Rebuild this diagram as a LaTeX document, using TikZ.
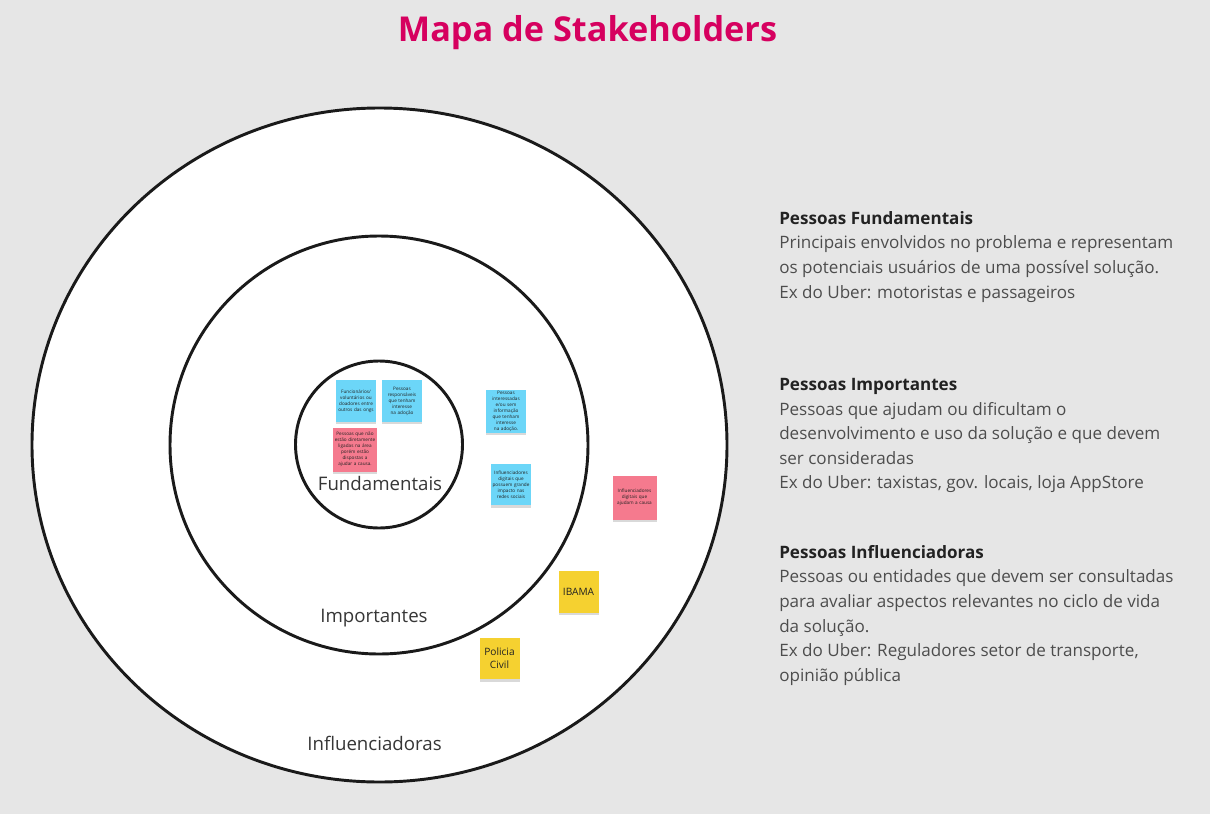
\documentclass[tikz,border=0pt]{standalone}
\usepackage{fontspec}
\setmainfont{Open Sans}
\usetikzlibrary{shadows}
\definecolor{bgcol}{HTML}{E6E6E6}
\definecolor{titlecol}{HTML}{D6005F}
\definecolor{ringcol}{HTML}{1A1A1A}
\definecolor{headcol}{HTML}{222222}
\definecolor{bodycol}{HTML}{4D4D4D}
\definecolor{labelcol}{HTML}{363636}
\definecolor{noteblue}{HTML}{6CD6F8}
\definecolor{notepink}{HTML}{F57A8E}
\definecolor{noteyellow}{HTML}{F5D130}
\newcommand{\notefont}{\fontsize{3.5}{4.5}\selectfont\hyphenpenalty=10000\relax}

\begin{document}
\begin{tikzpicture}
	[x=0.75pt,y=-0.75pt,
	ring/.style={draw=ringcol,line width=2.2pt,fill=white},
	sticky/.style={rectangle,inner sep=1pt,minimum width=30pt,minimum height=31pt,
		align=center,text width=28pt,text=headcol,font=\notefont,
		drop shadow={shadow xshift=0pt,shadow yshift=-1.8pt,opacity=0.15,fill=black}},
	bluenote/.style={sticky,fill=noteblue},
	pinknote/.style={sticky,fill=notepink,minimum width=33pt,minimum height=33pt,text width=31pt},
	yellownote/.style={sticky,fill=noteyellow,font=\fontsize{7.6}{9.6}\selectfont},
	ringlabel/.style={anchor=base,inner sep=0pt,text=labelcol,font=\fontsize{14}{16}\selectfont},
	legend/.style={anchor=north west,inner sep=0pt,align=left,text=bodycol,
		font=\fontsize{12.8}{18.45}\selectfont}]
	\fill [bgcol] (0,0) rectangle (1210,814);
	\node (title) [anchor=base,inner sep=0pt,text=titlecol,font=\fontsize{25.7}{30}\bfseries]
		at (587.5,41) {Mapa de Stakeholders};
	% rings
	\draw [ring] (379.5,445) ellipse [x radius=347.5,y radius=337];
	\draw [ring] (379,445) circle [radius=209];
	\draw [ring] (379,444.5) circle [radius=83.5];
	\node (fund) [ringlabel] at (380,490) {Fundamentais};
	\node (imp) [ringlabel] at (374,622) {Importantes};
	\node (infl) [ringlabel] at (374.5,750) {Influenciadoras};
	% sticky notes
	\node (func) [bluenote] at (356,401) {Funcionários/ voluntários ou doadores entre outros das ongs};
	\node (resp) [bluenote] at (402,401) {Pessoas responsáveis que tenham interesse na adoção};
	\node (apoio) [pinknote] at (355,449.5) {Pessoas que não estão diretamente ligadas na área porém estão dispostas a ajudar a causa.};
	\node (inter) [bluenote] at (506,411.5) {Pessoas interessadas e/ou sem informação que tenham interesse na adoção.};
	\node (digi) [bluenote] at (511,484.5) {Influenciadores digitais que possuem grande impacto nas redes sociais};
	\node (causa) [pinknote] at (634.5,497.5) {Influenciadores digitais que ajudam a causa};
	\node (ibama) [yellownote] at (578.5,592) {IBAMA};
	\node (policia) [yellownote] at (499.5,658.5) {Policia Civil};
	% legend
	\node (lfund) [legend] at (779,211) {\textcolor{headcol}{\textbf{Pessoas Fundamentais}}\\
		Principais envolvidos no problema e representam\\
		os potenciais usuários de uma possível solução.\\
		Ex do Uber: motoristas e passageiros};
	\node (limp) [legend] at (779,378) {\textcolor{headcol}{\textbf{Pessoas Importantes}}\\
		Pessoas que ajudam ou dificultam o\\
		desenvolvimento e uso da solução e que devem\\
		ser consideradas\\
		Ex do Uber: taxistas, gov. locais, loja AppStore};
	\node (linfl) [legend] at (779,545) {\textcolor{headcol}{\textbf{Pessoas Influenciadoras}}\\
		Pessoas ou entidades que devem ser consultadas\\
		para avaliar aspectos relevantes no ciclo de vida\\
		da solução.\\
		Ex do Uber: Reguladores setor de transporte,\\
		opinião pública};
\end{tikzpicture}
\end{document}
